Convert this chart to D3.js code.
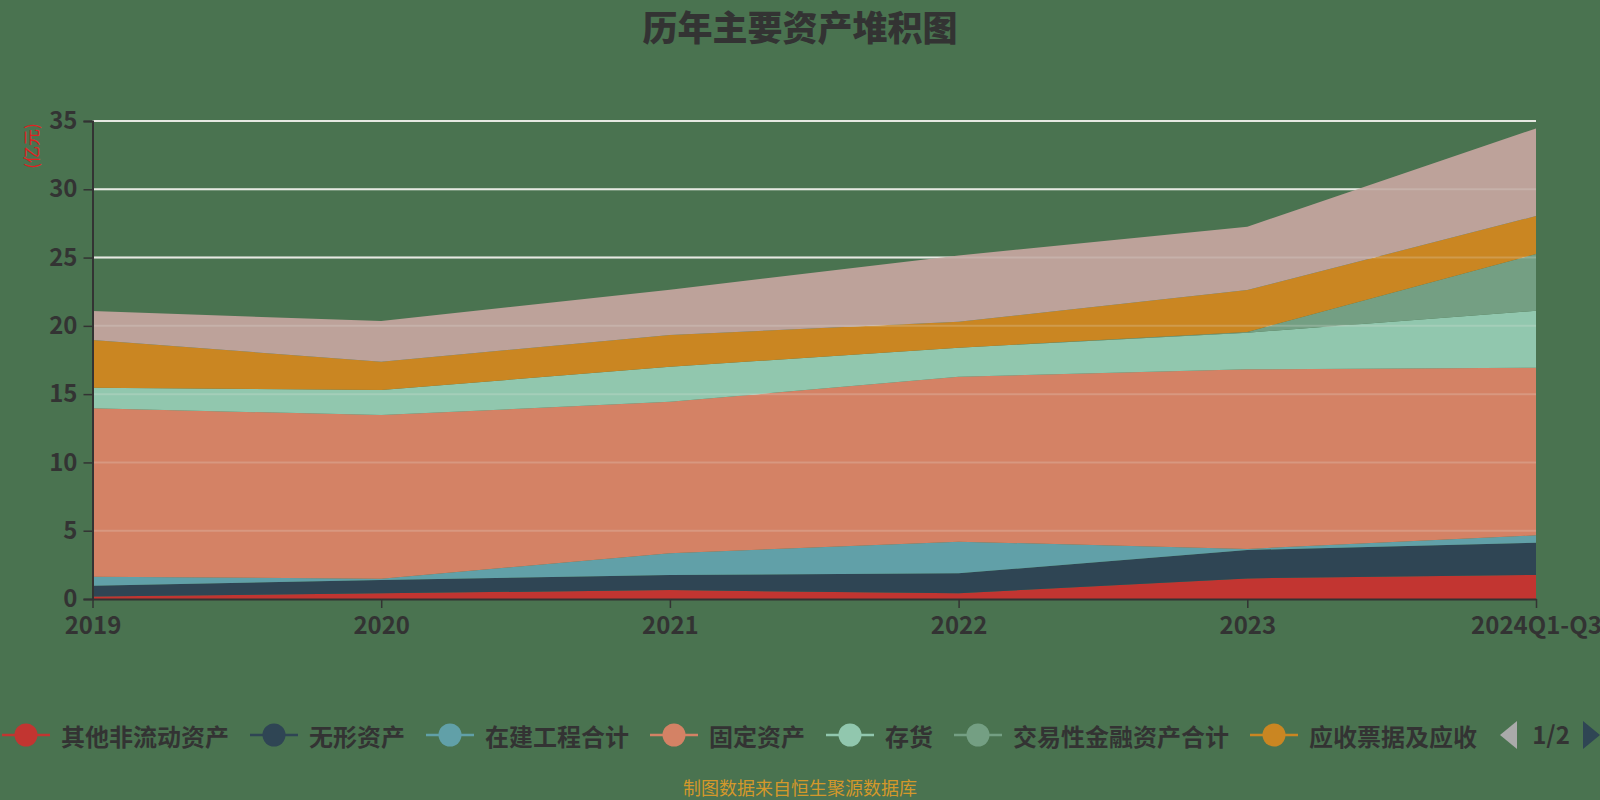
<!DOCTYPE html>
<html>
<head>
<meta charset="utf-8">
<script src="https://cdn.jsdelivr.net/npm/d3@7/dist/d3.min.js"></script>
<style>
  html, body { margin: 0; padding: 0; background: #4a7350; }
  svg { display: block; }
</style>
</head>
<body>
<svg id="chart" width="1600" height="800"></svg>
<script>
// ---------- data ----------
const categories = ["2019", "2020", "2021", "2022", "2023", "2024Q1-Q3"];
const seriesNames = ["其他非流动资产", "无形资产", "在建工程合计", "固定资产", "存货", "交易性金融资产合计", "应收票据及应收", "货币资金"];
const otherNonCurrent = [0.18, 0.42, 0.65, 0.42, 1.51, 1.76];
const intangible      = [0.79, 0.97, 1.11, 1.46, 2.08, 2.36];
const construction    = [0.66, 0.10, 1.59, 2.32, 0.08, 0.54];
const fixedAssets     = [12.33, 11.98, 11.09, 12.07, 13.15, 12.27];
const inventory       = [1.51, 1.83, 2.56, 2.13, 2.68, 4.17];
const tradingAssets   = [0, 0, 0, 0, 0.05, 4.16];
const receivables     = [3.49, 2.07, 2.33, 1.90, 3.07, 2.78];
const cash            = [2.12, 2.98, 3.32, 4.85, 4.64, 6.42];
const seriesValues = [otherNonCurrent, intangible, construction, fixedAssets, inventory, tradingAssets, receivables, cash];
const colors = ["#c23531", "#2f4554", "#61a0a8", "#d48265", "#91c7ae", "#749f83", "#ca8622", "#bda29a"];
const yTicks = [0, 5, 10, 15, 20, 25, 30, 35];
const legendCount = 7;

// ---------- layout ----------
const svg = d3.select("#chart");
const W = 1600, H = 800;
const plotLeft = 92.5, plotRight = 1536, plotTop = 121, plotBottom = 599;
const font = "'Noto Sans CJK SC', 'Noto Sans', sans-serif";

svg.append("rect").attr("width", W).attr("height", H).attr("fill", "#4a7350");

const x = d3.scalePoint().domain(categories).range([plotLeft, plotRight]);
const y = d3.scaleLinear().domain([0, 35]).range([plotBottom, plotTop]);

// table for stack
const table = categories.map((c, i) => {
  const row = { cat: c };
  seriesNames.forEach((n, k) => row[n] = seriesValues[k][i]);
  return row;
});
const stacked = d3.stack().keys(seriesNames)(table);

// grid (under)
function drawGrid(op) {
  svg.append("g").selectAll("line").data(yTicks.filter(t => t > 0)).join("line")
    .attr("x1", plotLeft).attr("x2", plotRight)
    .attr("y1", d => y(d)).attr("y2", d => y(d))
    .attr("stroke", "#e6eae2").attr("stroke-width", 2).attr("stroke-opacity", op);
}
drawGrid(1);

// areas
const area = d3.area()
  .x(d => x(d.data.cat))
  .y0(d => y(d[0]))
  .y1(d => y(d[1]));
svg.append("g").selectAll("path").data(stacked).join("path")
  .attr("d", area)
  .attr("fill", (d, i) => colors[i])
  .attr("stroke", "none");

// faint grid over areas
drawGrid(0.22);

// y axis
const yAxis = d3.axisLeft(y).tickValues(yTicks).tickSize(9).tickPadding(6);
const gy = svg.append("g").attr("transform", `translate(${plotLeft},0)`).call(yAxis);
gy.select(".domain").attr("stroke", "#333").attr("stroke-width", 2);
gy.selectAll(".tick line").attr("stroke", "#333").attr("stroke-width", 1.5);
gy.selectAll(".tick text").attr("fill", "#333").attr("font-size", 24)
  .attr("font-family", font).attr("font-weight", 600);

// x axis
const xAxis = d3.axisBottom(x).tickSize(9).tickPadding(9).tickSizeOuter(0);
const gx = svg.append("g").attr("transform", `translate(0,${plotBottom})`).call(xAxis);
gx.select(".domain").attr("stroke", "#333").attr("stroke-width", 2);
gx.selectAll(".tick line").attr("stroke", "#333").attr("stroke-width", 1.5);
gx.selectAll(".tick text").attr("fill", "#333").attr("font-size", 24)
  .attr("font-family", font).attr("font-weight", 600);

// y axis unit label
svg.append("text")
  .attr("transform", "translate(30,146) rotate(-90)")
  .attr("text-anchor", "middle").attr("dominant-baseline", "central")
  .attr("fill", "#e02020").attr("font-size", 17).attr("font-family", font)
  .text("(亿元)");

// title
svg.append("text")
  .attr("x", 800).attr("y", 25)
  .attr("text-anchor", "middle").attr("dominant-baseline", "central")
  .attr("fill", "#333").attr("font-size", 35).attr("font-weight", 900)
  .attr("font-family", font)
  .text("历年主要资产堆积图");

// legend
const lg = svg.append("g");
let cx = 2;
const ly = 735;
for (let i = 0; i < legendCount; i++) {
  const g = lg.append("g");
  g.append("line").attr("x1", cx).attr("x2", cx + 48).attr("y1", ly).attr("y2", ly)
    .attr("stroke", colors[i]).attr("stroke-width", 2.5);
  g.append("circle").attr("cx", cx + 24).attr("cy", ly).attr("r", 11.5)
    .attr("fill", colors[i]);
  const t = g.append("text").attr("x", cx + 59).attr("y", ly)
    .attr("dominant-baseline", "central")
    .attr("fill", "#333").attr("font-size", 24).attr("font-weight", 600).attr("font-family", font)
    .text(seriesNames[i]);
  const tw = t.node().getComputedTextLength();
  cx = cx + 59 + tw + 21;
}
// pager
const px = 1500;
lg.append("path").attr("d", `M${px + 17},${ly - 14} L${px + 17},${ly + 14} L${px},${ly} Z`).attr("fill", "#aaaaaa");
lg.append("text").attr("x", 1551).attr("y", ly - 2).attr("text-anchor", "middle")
  .attr("dominant-baseline", "central").attr("fill", "#333").attr("font-size", 24)
  .attr("font-weight", 600).attr("font-family", font).text("1/2");
lg.append("path").attr("d", `M1583,${ly - 14} L1583,${ly + 14} L1600,${ly} Z`).attr("fill", "#2f4554");

// footer
svg.append("text")
  .attr("x", 800).attr("y", 787)
  .attr("text-anchor", "middle").attr("dominant-baseline", "central")
  .attr("fill", "#d4982a").attr("font-size", 18).attr("font-family", font)
  .text("制图数据来自恒生聚源数据库");
</script>
</body>
</html>
